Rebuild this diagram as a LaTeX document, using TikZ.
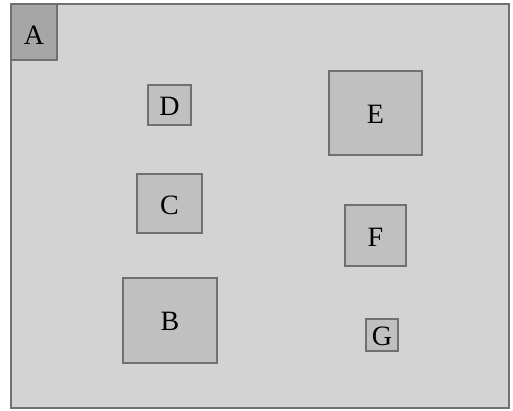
\documentclass[tikz,border=0pt]{standalone}
\usepackage{fontspec}
\setmainfont{Liberation Serif}
\definecolor{outerfill}{HTML}{D3D3D3}
\definecolor{boxfill}{HTML}{C0C0C0}
\definecolor{afill}{HTML}{A6A6A6}
\definecolor{edge}{HTML}{707070}
\begin{document}
\begin{tikzpicture}[x=1pt,y=-1pt,
  box/.style={draw=edge,line width=1.8pt,fill=boxfill},
  lab/.style={font=\fontsize{28}{28}\selectfont,inner sep=0pt}]
\useasboundingbox (0,0) rectangle (513,410);
\fill[white] (0,0) rectangle (513,410);
\draw[draw=edge,line width=1.8pt,fill=outerfill] (11,4) rectangle (509,408);
\draw[draw=edge,line width=1.8pt,fill=afill] (11,4) rectangle (57,60);
\node[lab] (A) at (34,35) {A};
\draw[box] (148,85) rectangle (191,125);
\node[lab] (D) at (169.5,106) {D};
\draw[box] (329,71) rectangle (422,155);
\node[lab] (E) at (375.5,114) {E};
\draw[box] (137,174) rectangle (202,233);
\node[lab] (C) at (169.5,205) {C};
\draw[box] (345,205) rectangle (406,266);
\node[lab] (F) at (375.5,237) {F};
\draw[box] (123,278) rectangle (217,363);
\node[lab] (B) at (170,321) {B};
\draw[box] (366,319) rectangle (398,351);
\node[lab] (G) at (382,336) {G};
\end{tikzpicture}
\end{document}
